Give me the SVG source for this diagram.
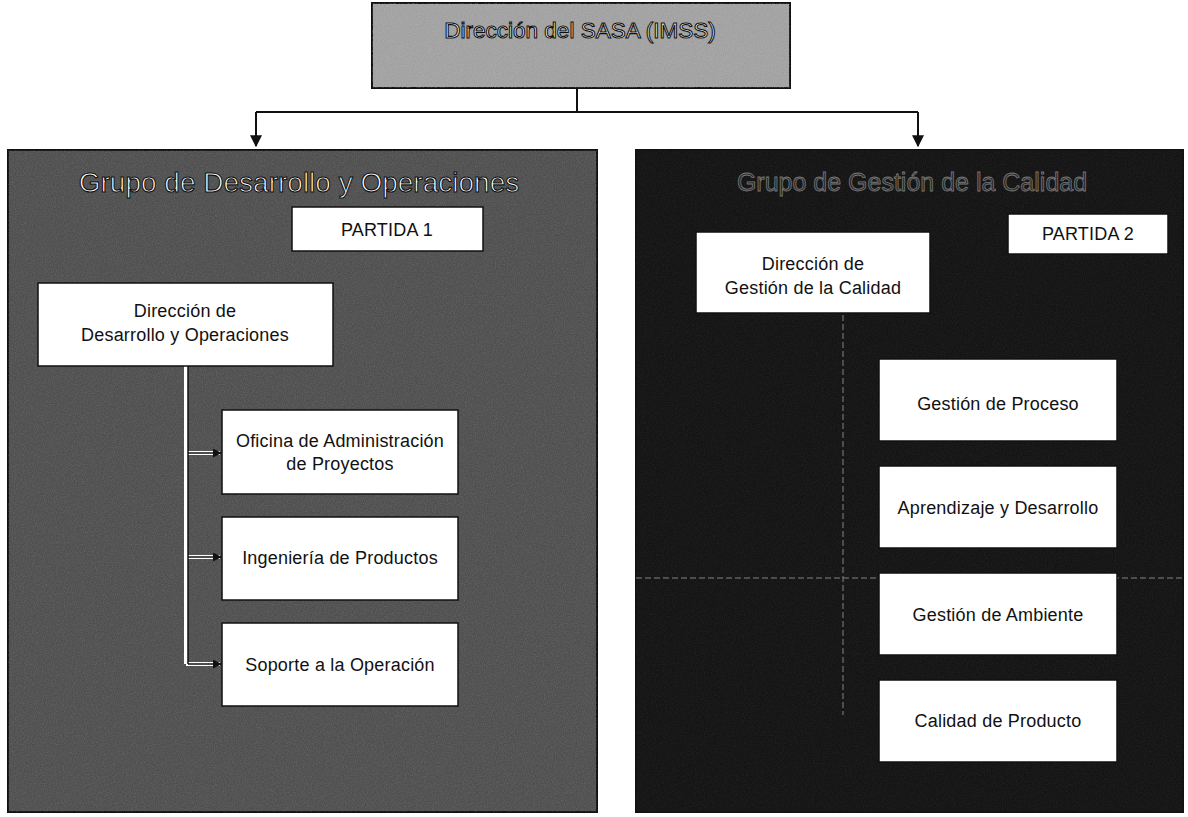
<svg xmlns="http://www.w3.org/2000/svg" width="1188" height="817" viewBox="0 0 1188 817">
<style>
.box{fill:#fff;stroke:#111;stroke-width:1.5}
.t{font-family:"Liberation Sans",Arial,sans-serif;font-size:18px;letter-spacing:0.2px;fill:#111;text-anchor:middle}
.title{font-family:"Liberation Sans",Arial,sans-serif;fill:#fff;stroke:#111;stroke-width:1.1;text-anchor:middle}
.conn{stroke:#111;stroke-width:2;fill:none}
</style>
<defs>
<marker id="ah" viewBox="0 0 10 10" refX="9" refY="5" markerWidth="6" markerHeight="6" orient="auto-start-reverse">
<path d="M0,0 L10,5 L0,10 z" fill="#111"/>
</marker>
<filter id="noiseMid" x="0" y="0" width="100%" height="100%">
<feTurbulence type="fractalNoise" baseFrequency="0.9" numOctaves="2" seed="3" result="n"/>
<feColorMatrix type="matrix" values="0 0 0 0 0.28  0 0 0 0 0.28  0 0 0 0 0.28  1.6 0 0 0 -0.55" result="c"/>
<feComposite in="c" in2="SourceGraphic" operator="in"/>
</filter>
</defs>
<g id="bg">
<rect x="0" y="0" width="1188" height="817" fill="#fff"/>
</g>
<g id="node-top">
<rect x="372" y="3" width="418" height="85" fill="#a8a8a8" stroke="#111" stroke-width="2"/>
<rect x="372" y="3" width="418" height="85" fill="#fff" filter="url(#noiseMid)" opacity="0.6"/>
<text class="title" x="580" y="38" font-size="22.5">Dirección del SASA (IMSS)</text>
</g>
<g id="connectors">
<path class="conn" d="M577,88 V112 M256,112 H918"/>
<path class="conn" d="M256,112 V146" marker-end="url(#ah)"/>
<path class="conn" d="M918,112 V146" marker-end="url(#ah)"/>
</g>
<g id="group-left">
<rect x="8" y="150" width="589" height="662" fill="#4f4f4f" stroke="#111" stroke-width="2"/>
<rect x="8" y="150" width="589" height="662" fill="#fff" filter="url(#noiseMid)" opacity="0.35"/>
<text class="title" x="299" y="192" font-size="28">Grupo de Desarrollo y Operaciones</text>
</g>
<g id="group-right">
<rect x="636" y="150" width="547" height="662" fill="#141414" stroke="#111" stroke-width="2"/>
<rect x="636" y="150" width="547" height="662" fill="#fff" filter="url(#noiseMid)" opacity="0.12"/>
<text class="title" x="912" y="191" font-size="25" style="fill:#2a2a2a;stroke:#777;stroke-width:0.8">Grupo de Gestión de la Calidad</text>
<path d="M843,315 V715 M636,578 H1183" stroke="#ccc" stroke-width="1" stroke-dasharray="6 3" opacity="0.6"/>
</g>
<g id="left-connectors">
<path d="M186,366 V664 M186,453 H220 M186,557 H220 M186,664 H220" stroke="#fff" stroke-width="4" fill="none"/>
<path d="M188,366 V664" stroke="#111" stroke-width="1.5" fill="none"/>
<path d="M188,453 H221" stroke="#111" stroke-width="1.5" marker-end="url(#ah)"/>
<path d="M188,557 H221" stroke="#111" stroke-width="1.5" marker-end="url(#ah)"/>
<path d="M188,664 H221" stroke="#111" stroke-width="1.5" marker-end="url(#ah)"/>
</g>
<g id="node-partida1">
<rect class="box" x="292" y="207" width="191" height="44"/>
<text class="t" x="387" y="236">PARTIDA 1</text>
</g>
<g id="node-dir-desarrollo">
<rect class="box" x="38" y="283" width="295" height="83"/>
<text class="t" x="185" y="317">Dirección de</text>
<text class="t" x="185" y="341">Desarrollo y Operaciones</text>
</g>
<g id="node-oficina">
<rect class="box" x="222" y="410" width="236" height="84"/>
<text class="t" x="340" y="447">Oficina de Administración</text>
<text class="t" x="340" y="470">de Proyectos</text>
</g>
<g id="node-ingenieria">
<rect class="box" x="222" y="517" width="236" height="83"/>
<text class="t" x="340" y="564">Ingeniería de Productos</text>
</g>
<g id="node-soporte">
<rect class="box" x="222" y="623" width="236" height="83"/>
<text class="t" x="340" y="671">Soporte a la Operación</text>
</g>
<g id="node-partida2">
<rect class="box" x="1008" y="214" width="160" height="40"/>
<text class="t" x="1088" y="240">PARTIDA 2</text>
</g>
<g id="node-dir-calidad">
<rect class="box" x="696" y="232" width="234" height="81"/>
<text class="t" x="813" y="270">Dirección de</text>
<text class="t" x="813" y="294">Gestión de la Calidad</text>
</g>
<g id="node-proceso">
<rect class="box" x="879" y="359" width="238" height="82"/>
<text class="t" x="998" y="410">Gestión de Proceso</text>
</g>
<g id="node-aprendizaje">
<rect class="box" x="879" y="466" width="238" height="82"/>
<text class="t" x="998" y="514">Aprendizaje y Desarrollo</text>
</g>
<g id="node-ambiente">
<rect class="box" x="879" y="573" width="238" height="82"/>
<text class="t" x="998" y="621">Gestión de Ambiente</text>
</g>
<g id="node-calidad-producto">
<rect class="box" x="879" y="680" width="238" height="82"/>
<text class="t" x="998" y="727">Calidad de Producto</text>
</g>
</svg>
